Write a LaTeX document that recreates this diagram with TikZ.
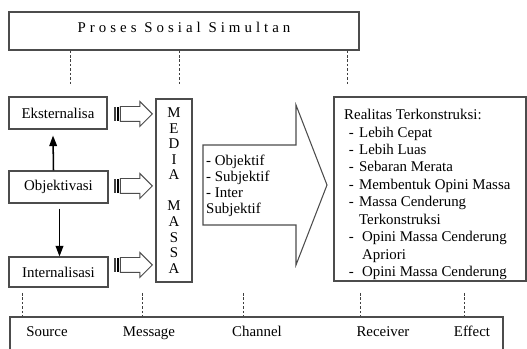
\documentclass[tikz,border=0pt]{standalone}
\usepackage{fontspec}
\setmainfont{Liberation Serif}
\usetikzlibrary{arrows.meta,shapes.arrows,calc}

\newcommand{\rtitem}[2][8.75pt]{\hspace*{4pt}\makebox[#1][l]{-}#2}

\begin{document}
\begin{tikzpicture}[x=0.03cm,y=-0.03cm,
    every node/.style={font=\fontsize{12.7}{14}\selectfont},
    box/.style={draw=black!70,line width=0.9pt,inner sep=0pt},
    guide/.style={draw=black!75,line width=0.8pt,dash pattern=on 2.2pt off 1.6pt},
    flow/.style={line width=1.3pt,-{Triangle[length=9pt,width=6.5pt]}},
    feed/.style={single arrow,draw=black!70,line width=0.8pt,fill=white,
        inner sep=0pt,inner ysep=0.21cm,minimum width=0.72cm,minimum height=0.96cm,
        single arrow head extend=0.15cm,single arrow tip angle=90}]
\useasboundingbox (0,0) rectangle (527,349);
\clip (0,0) rectangle (527,349);

% top and bottom bands
\node[box,minimum width=10.5cm,minimum height=1.14cm] (proses) at (184,31) {};
\node[font=\fontsize{12.7}{14}\selectfont\addfontfeatures{LetterSpace=27}] (prosestext) at (184,27) {Proses Sosial Simultan};
\node[box,minimum width=14.79cm,minimum height=1.29cm] (bottom) at (256.5,338.5) {};

% left column
\node[box,minimum width=2.94cm,minimum height=0.96cm] (ekst) at (58,113) {Eksternalisa};
\node[box,minimum width=2.97cm,minimum height=0.96cm] (objek) at (58.5,187) {Objektivasi};
\node[box,minimum width=2.97cm,minimum height=0.9cm] (inter) at (58.5,272) {Internalisasi};
\draw[flow] ([xshift=-0.15cm]objek.north) -- ([xshift=-0.15cm,yshift=-0.18cm]ekst.south);
\draw[flow] ([xshift=0.03cm,yshift=-0.15cm]objek.south) -- ([xshift=0.03cm]inter.north);

\node[box,minimum width=1.08cm,minimum height=5.49cm,align=center,
    font=\fontsize{12.7}{13.3}\selectfont] (media) at (174,190.5)
    {M\\E\\D\\I\\A\\[0pt]\strut\\M\\A\\S\\S\\A};

\node[feed,anchor=tip] (a1) at (153,114) {};
\node[feed,anchor=tip] (a2) at (153,186) {};
\node[feed,anchor=tip] (a3) at (153,265) {};
\foreach \a in {a1,a2,a3}{
    \fill[black!75] ($(\a.tail)+(-6,-7)$) rectangle ++(2.2,14);
    \fill[black] ($(\a.tail)+(-3,-7)$) rectangle ++(2.4,14);
}

% channel arrow
\draw[box,fill=white] (203,145) -- (296,145) -- (296,105) -- (327,185)
    -- (296,265) -- (296,225) -- (203,225) -- cycle;
\node[anchor=west,align=left,inner sep=0pt,font=\fontsize{12.7}{13.6}\selectfont] (chan) at (206,186)
    {- Objektif\\- Subjektif\\- Inter\\Subjektif};

% right box
\node[box,minimum width=5.76cm,minimum height=5.52cm] (realitas) at (430,189) {};
\node[anchor=north west,align=left,inner sep=0pt,font=\fontsize{12.7}{14.9}\selectfont] (realtext) at (344,109)
    {Realitas Terkonstruksi:\\
     \rtitem{Lebih Cepat}\\
     \rtitem{Lebih Luas}\\
     \rtitem{Sebaran Merata}\\
     \rtitem{Membentuk Opini Massa}\\
     \rtitem{Massa Cenderung}\\
     \hspace*{12.75pt}Terkonstruksi\\
     \rtitem[11.3pt]{Opini Massa Cenderung}\\
     \hspace*{15.3pt}Apriori\\
     \rtitem[11.3pt]{Opini Massa Cenderung}};

% dashed guides
\foreach \x [count=\i] in {70,179,347}{
    \coordinate (t\i) at (\x,86);
    \draw[guide] (t\i |- proses.south) -- (t\i);
}
\foreach \x [count=\i] in {22,142,243,360,464}{
    \coordinate (b\i) at (\x,293);
    \draw[guide] (b\i) -- (b\i |- bottom.north);
}

\node[anchor=base] (source) at (47,337) {Source};
\node[anchor=base] (message) at (149,337) {Message};
\node[anchor=base] (channel) at (257,337) {Channel};
\node[anchor=base] (receiver) at (383,337) {Receiver};
\node[anchor=base] (effect) at (472,337) {Effect};
\end{tikzpicture}
\end{document}
